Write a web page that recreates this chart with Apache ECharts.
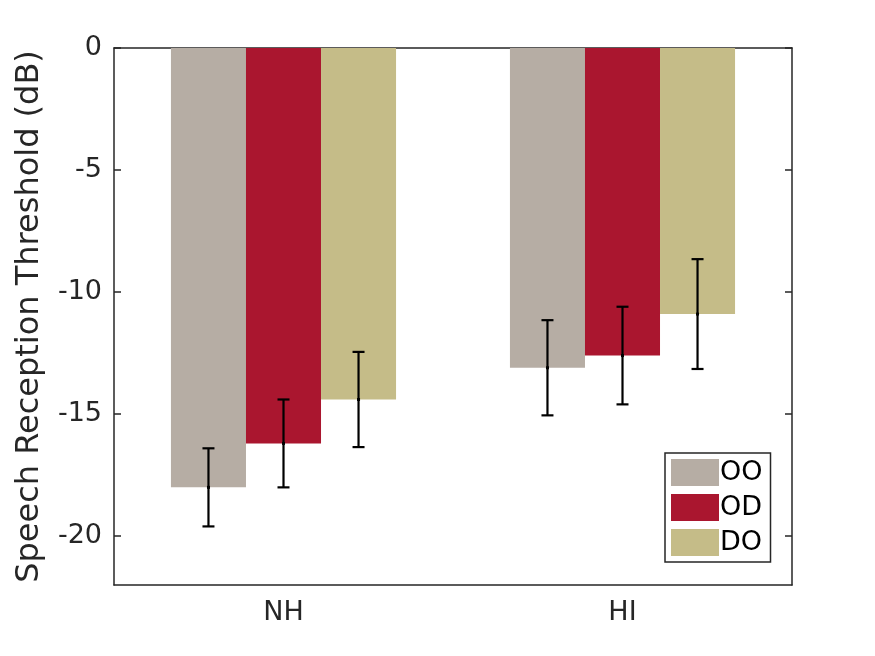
<!DOCTYPE html>
<html>
<head>
<meta charset="utf-8">
<script src="https://cdn.jsdelivr.net/npm/echarts@6/dist/echarts.min.js"></script>
<style>
  html, body { margin: 0; padding: 0; background: #fff; }
  #chart { width: 875px; height: 656px; }
</style>
</head>
<body>
<div id="chart"></div>
<script>
// groups and conditions
const groups = ['NH', 'HI'];
const conditions = ['OO', 'OD', 'DO'];
const colors = ['#B6ADA4', '#AA162F', '#C5BC88'];

// mean SRT (dB) per condition, [NH, HI]
const meanOO = [-18.0, -13.1];
const meanOD = [-16.2, -12.6];
const meanDO = [-14.4, -10.9];

// error bar half-lengths (dB)
const errOO = [1.6, 1.95];
const errOD = [1.8, 2.0];
const errDO = [1.95, 2.25];

const yTicks = [0, -5, -10, -15, -20];

const means = [meanOO, meanOD, meanDO];
const errs = [errOO, errOD, errDO];
const catGap = 0.336;
const axisColor = '#262626';
const fontFamily = 'DejaVu Sans';

// one row per error bar: [groupIndex, low, high, conditionIndex, mean]
const errData = [];
means.forEach((m, ci) => {
  m.forEach((v, gi) => {
    errData.push([gi, v - errs[ci][gi], v + errs[ci][gi], ci, v]);
  });
});

const chart = echarts.init(document.getElementById('chart'));

function renderErr(params, api) {
  const gi = api.value(0);
  const ci = api.value(3);
  const catW = api.size([1, 0])[0];
  const barW = catW * (1 - catGap) / conditions.length;
  const base = api.coord([gi, api.value(4)]);
  const x = base[0] + (ci - 1) * barW;
  const lo = api.coord([gi, api.value(1)])[1];
  const hi = api.coord([gi, api.value(2)])[1];
  const cap = 6;
  const style = { stroke: '#000', lineWidth: 2.2 };
  return {
    type: 'group',
    children: [
      { type: 'line', shape: { x1: x, y1: lo, x2: x, y2: hi }, style },
      { type: 'line', shape: { x1: x - cap, y1: lo, x2: x + cap, y2: lo }, style },
      { type: 'line', shape: { x1: x - cap, y1: hi, x2: x + cap, y2: hi }, style },
      { type: 'rect', shape: { x: x - 1.5, y: base[1] - 1.5, width: 3, height: 3 }, style: { fill: '#000' } }
    ]
  };
}

const series = conditions.map((name, ci) => ({
  name: name,
  type: 'bar',
  data: means[ci],
  barGap: '0%',
  barCategoryGap: (catGap * 100) + '%',
  itemStyle: { color: colors[ci] },
  silent: true
}));

series.push({
  type: 'custom',
  renderItem: renderErr,
  data: errData,
  encode: { x: 0, y: [1, 2] },
  z: 10,
  silent: true
});

const option = {
  animation: false,
  textStyle: { fontFamily: fontFamily },
  grid: { left: 114, right: 83, top: 48, bottom: 71 },
  legend: {
    data: conditions,
    orient: 'vertical',
    left: 665,
    top: 453,
    width: 106,
    padding: [6, 8, 6, 6],
    itemWidth: 48,
    itemHeight: 27,
    itemGap: 8,
    borderColor: axisColor,
    borderWidth: 1.5,
    backgroundColor: '#fff',
    selectedMode: false,
    icon: 'rect',
    textStyle: { fontSize: 27, color: '#000', fontFamily: fontFamily, padding: [0, 0, 0, -4] }
  },
  xAxis: [
    {
      type: 'category',
      data: groups,
      position: 'bottom',
      axisLine: { onZero: false, lineStyle: { color: axisColor, width: 1.5 } },
      axisTick: { inside: true, alignWithLabel: true, length: 7, lineStyle: { color: axisColor, width: 1.5 } },
      axisLabel: { fontSize: 27, color: axisColor, margin: 14 }
    },
    {
      type: 'category',
      data: groups,
      position: 'top',
      axisLine: { onZero: false, lineStyle: { color: axisColor, width: 1.5 } },
      axisTick: { inside: true, alignWithLabel: true, length: 7, lineStyle: { color: axisColor, width: 1.5 } },
      axisLabel: { show: false }
    }
  ],
  yAxis: [
    {
      type: 'value',
      min: -22,
      max: 0,
      position: 'left',
      name: 'Speech Reception Threshold (dB)',
      nameLocation: 'middle',
      nameGap: 68,
      nameTextStyle: { fontSize: 32, color: axisColor },
      splitLine: { show: false },
      axisLine: { show: true, onZero: false, lineStyle: { color: axisColor, width: 1.5 } },
      axisTick: { show: true, inside: true, length: 7, customValues: yTicks, lineStyle: { color: axisColor, width: 1.5 } },
      axisLabel: { fontSize: 27, color: axisColor, margin: 12, customValues: yTicks }
    },
    {
      type: 'value',
      min: -22,
      max: 0,
      position: 'right',
      splitLine: { show: false },
      axisLine: { show: true, onZero: false, lineStyle: { color: axisColor, width: 1.5 } },
      axisTick: { show: true, inside: true, length: 7, customValues: yTicks, lineStyle: { color: axisColor, width: 1.5 } },
      axisLabel: { show: false }
    }
  ],
  series: series
};

chart.setOption(option);
</script>
</body>
</html>
